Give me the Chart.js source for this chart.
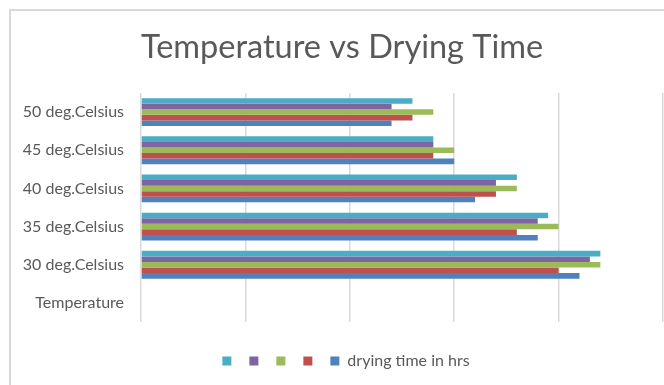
<!DOCTYPE html>
<html>
<head>
<meta charset="utf-8">
<script src="https://cdn.jsdelivr.net/npm/chart.js@4.4.1/dist/chart.umd.min.js"></script>
<style>
  html, body { margin: 0; padding: 0; background: #fff; overflow: hidden; }
  #frame {
    position: absolute; left: 9px; top: 9px;
    width: 690px; height: 400px;
    border-left: 2px solid #d9d9d9; border-top: 2px solid #d9d9d9;
  }
  #chartBox { position: absolute; left: 0; top: 0; width: 664px; height: 374px; }
</style>
</head>
<body>
<div id="frame">
  <div id="chartBox"><canvas id="dryingChart"></canvas></div>
</div>
<script>
// categories, top to bottom
const temperatures = ['50 deg.Celsius', '45 deg.Celsius', '40 deg.Celsius', '35 deg.Celsius', '30 deg.Celsius', 'Temperature'];

// drying time series (hrs), one per bar colour
const seriesCyan   = [2.6, 2.8, 3.6, 3.9, 4.4, null];
const seriesPurple = [2.4, 2.8, 3.4, 3.8, 4.3, null];
const seriesGreen  = [2.8, 3.0, 3.6, 4.0, 4.4, null];
const seriesRed    = [2.6, 2.8, 3.4, 3.6, 4.0, null];
const dryingTime   = [2.4, 3.0, 3.2, 3.8, 4.2, null];

const seriesNames = ['', '', '', '', 'drying time in hrs'];
const xTicks = [0, 1, 2, 3, 4, 5];

const textGray = '#595959';
const fontName = 'Lato';

function makeSet(name, values, color) {
    return {
        label: name,
        data: values,
        backgroundColor: color,
        borderWidth: 0,
        categoryPercentage: 0.73,
        barPercentage: 1.0
    };
}

// nudge title and legend to the right, the frame runs past the right edge
const shiftBoxes = {
    id: 'shiftBoxes',
    afterLayout(chart) {
        chart.titleBlock.left += 5;
        chart.titleBlock.right += 5;
        chart.legend.left += 9;
        chart.legend.right += 9;
    }
};

const ctx = document.getElementById('dryingChart').getContext('2d');
const chart = new Chart(ctx, {
    type: 'bar',
    data: {
        labels: temperatures,
        datasets: [
            makeSet(seriesNames[0], seriesCyan, '#4bacc6'),
            makeSet(seriesNames[1], seriesPurple, '#8064a2'),
            makeSet(seriesNames[2], seriesGreen, '#9bbb59'),
            makeSet(seriesNames[3], seriesRed, '#c0504d'),
            makeSet(seriesNames[4], dryingTime, '#4f81bd')
        ]
    },
    options: {
        indexAxis: 'y',
        responsive: true,
        maintainAspectRatio: false,
        animation: false,
        layout: { padding: { left: 0, right: 12, top: 0, bottom: 6 } },
        scales: {
            x: {
                min: xTicks[0],
                max: xTicks[xTicks.length - 1],
                ticks: { display: false, stepSize: 1 },
                grid: { color: '#d9d9d9', lineWidth: 1.5, drawTicks: false },
                border: { display: false },
                afterFit: function(scale) { scale.height = 21; }
            },
            y: {
                grid: { display: false, drawTicks: false },
                border: { display: false },
                ticks: {
                    color: textGray,
                    padding: 17,
                    font: { family: fontName, size: 16 }
                },
                afterFit: function(scale) { scale.width = 130; }
            }
        },
        plugins: {
            title: {
                display: true,
                text: 'Temperature vs Drying Time',
                color: textGray,
                font: { family: fontName, size: 32.5, weight: 'normal' },
                padding: { top: 17, bottom: 26 }
            },
            legend: {
                position: 'bottom',
                labels: {
                    color: textGray,
                    boxWidth: 9,
                    boxHeight: 9,
                    padding: 10,
                    font: { family: fontName, size: 16 }
                }
            },
            tooltip: { enabled: false }
        }
    },
    plugins: [shiftBoxes]
});
</script>
</body>
</html>
